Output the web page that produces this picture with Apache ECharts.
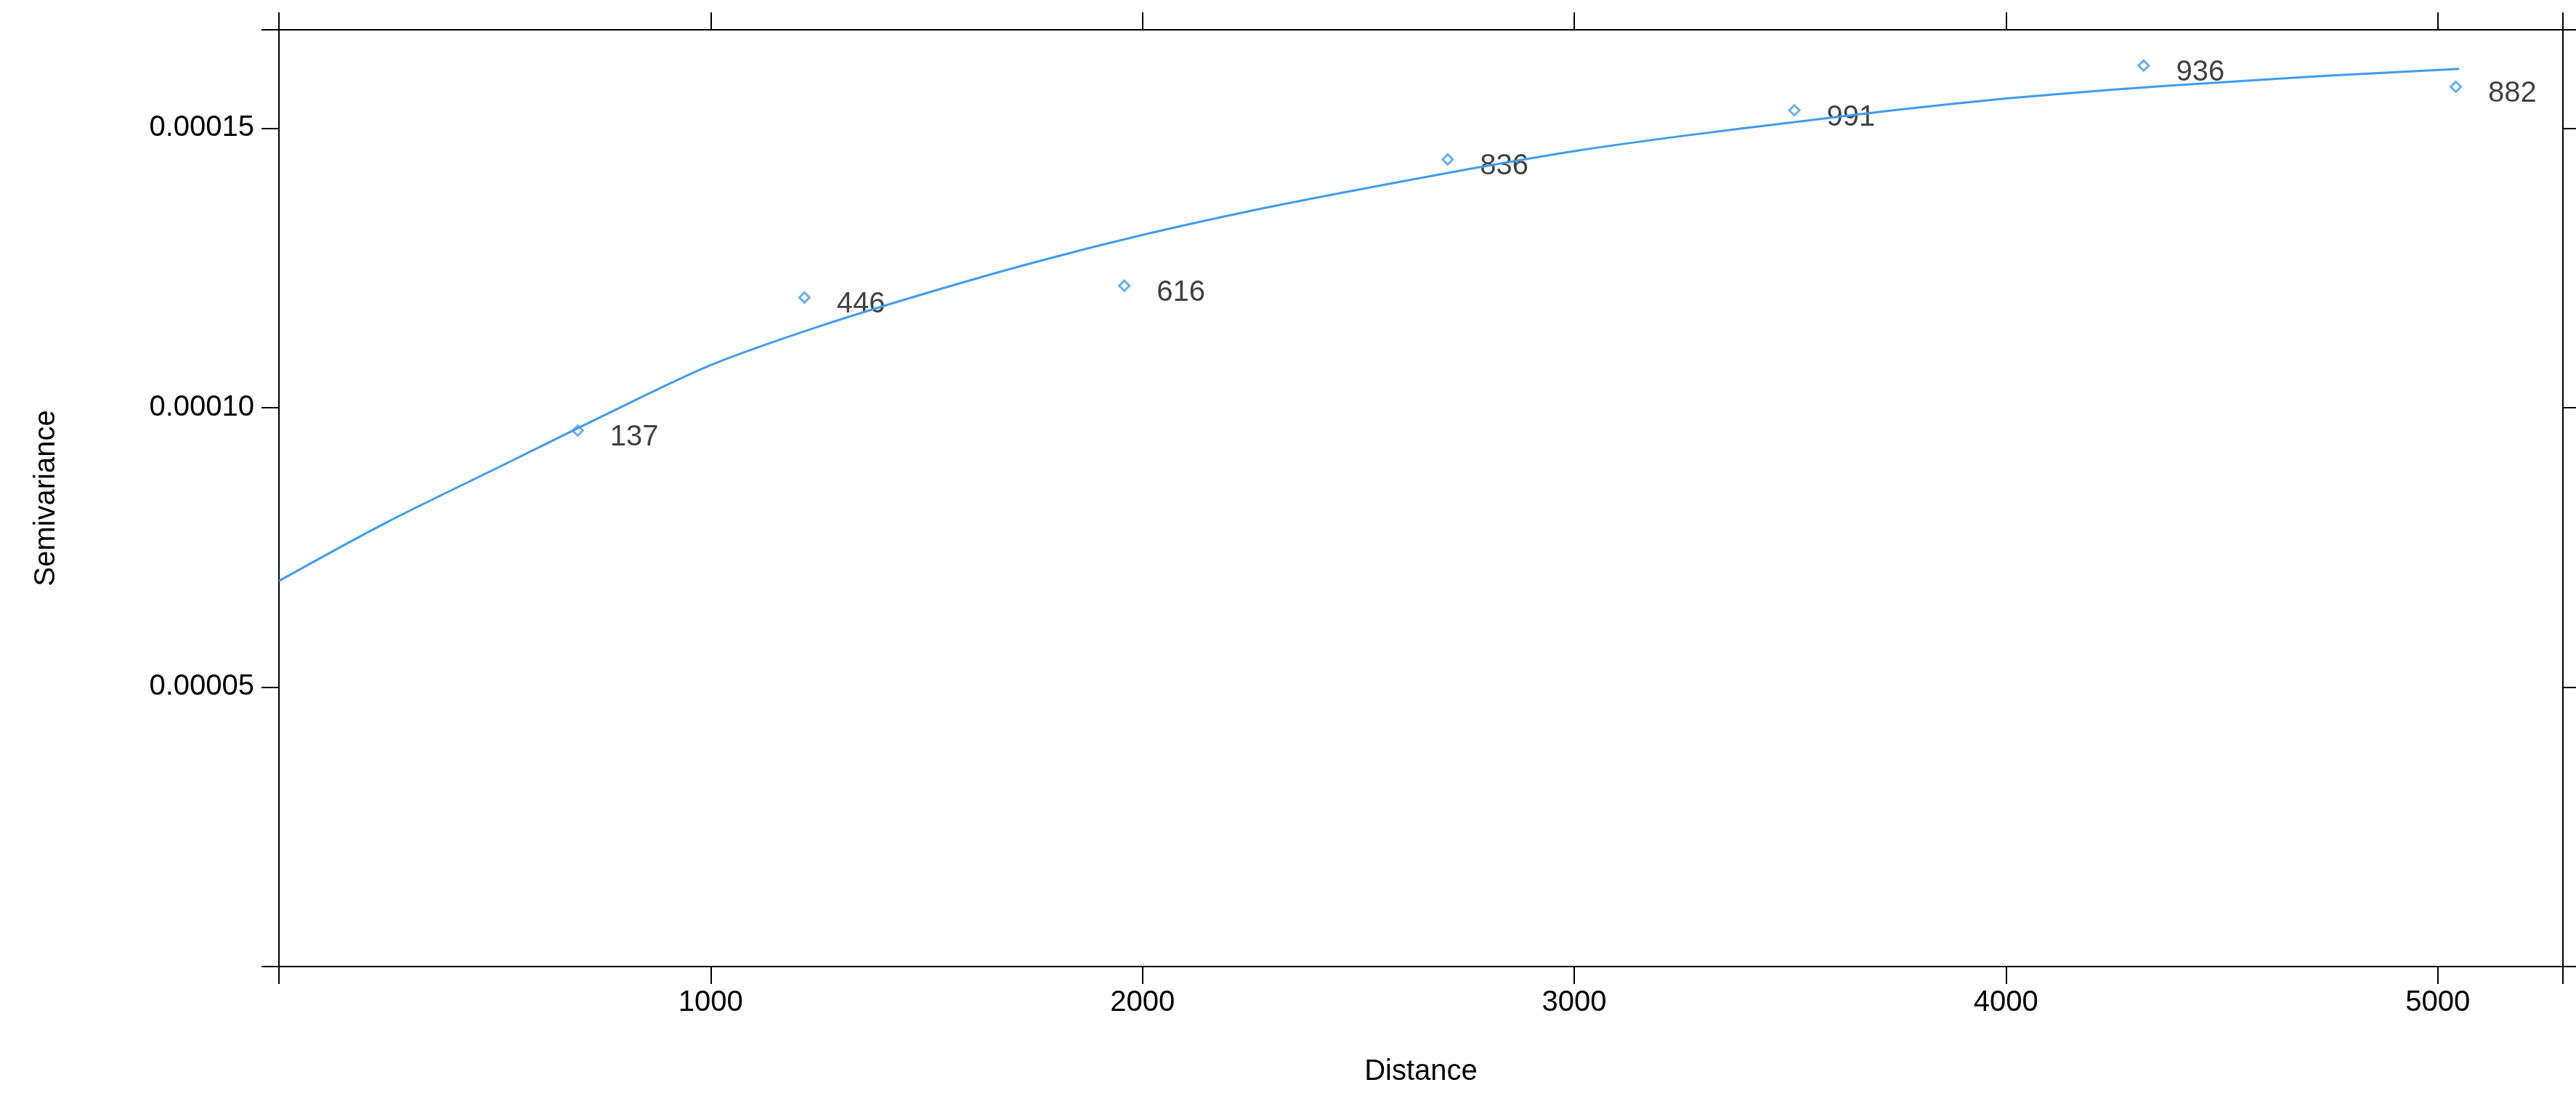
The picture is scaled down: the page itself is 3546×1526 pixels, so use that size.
<!DOCTYPE html>
<html><head><meta charset="utf-8">
<script src="https://cdn.jsdelivr.net/npm/echarts@6/dist/echarts.min.js"></script>
<style>html,body{margin:0;padding:0;background:#fff}#c{width:3546px;height:1526px}</style>
</head><body><div id="c"></div>
<script>
const distances = [692, 1217, 1958, 2707, 3510, 4319, 5042];
const gammas = [0.0000959, 0.0001197, 0.0001218, 0.0001444, 0.0001532, 0.0001612, 0.0001574];
const pairCounts = [137, 446, 616, 836, 991, 936, 882];
const modelDist = [0, 250, 500, 750, 1000, 1250, 1500, 1750, 2000, 2250, 2500, 2750, 3000, 3250, 3500, 3750, 4000, 4250, 4500, 4750, 5050];
const modelGamma = [0.0000690, 0.0000795, 0.0000890, 0.0000985, 0.0001076, 0.0001145, 0.0001205, 0.0001260, 0.0001309, 0.0001352, 0.0001390, 0.0001426, 0.0001459, 0.0001486, 0.0001510, 0.0001533, 0.0001553, 0.0001569, 0.0001582, 0.0001594, 0.0001606];
const xTicks = [1000, 2000, 3000, 4000, 5000];
const yTicks = [0.00005, 0.00010, 0.00015];

const col = '#3f9cf0';
const font = 'Liberation Sans';
const axBase = {
  axisLine: {show: true, onZero: false, lineStyle: {color: '#000', width: 2}},
  axisTick: {show: true, inside: false, length: 24, lineStyle: {color: '#000', width: 2}},
  splitLine: {show: false}
};
const chart = echarts.init(document.getElementById('c'));
chart.setOption({
  animation: false,
  grid: {left: 384, right: 18, top: 41, bottom: 196},
  xAxis: [
    Object.assign({type: 'value', position: 'bottom', min: 0, max: 5290, interval: 1000,
      name: 'Distance', nameLocation: 'middle', nameGap: 125,
      nameTextStyle: {fontFamily: font, fontSize: 40, color: '#000'},
      axisLabel: {fontFamily: font, fontSize: 40, color: '#000', margin: 30,
        formatter: v => xTicks.includes(v) ? String(v) : ''}}, axBase),
    Object.assign({type: 'value', position: 'top', min: 0, max: 5290, interval: 1000,
      axisLabel: {show: false}}, axBase)
  ],
  yAxis: [
    Object.assign({type: 'value', position: 'left', min: 0, max: 0.0001676, interval: 0.00005,
      name: 'Semivariance', nameLocation: 'middle', nameGap: 300,
      nameTextStyle: {fontFamily: font, fontSize: 40, color: '#000'},
      axisLabel: {fontFamily: font, fontSize: 40, color: '#000', margin: 34,
        formatter: v => yTicks.some(t => Math.abs(t - v) < 1e-9) ? v.toFixed(5) : ''}}, axBase),
    Object.assign({type: 'value', position: 'right', min: 0, max: 0.0001676, interval: 0.00005,
      axisLabel: {show: false}}, axBase)
  ],
  series: [
    {type: 'line', data: modelDist.map((d, i) => [d, modelGamma[i]]), smooth: 0.3,
      showSymbol: false, lineStyle: {color: col, width: 3}},
    {type: 'scatter', data: distances.map((d, i) => [d, gammas[i], pairCounts[i]]),
      symbol: 'diamond', symbolSize: 14,
      itemStyle: {color: '#fff', borderColor: col, borderWidth: 3},
      label: {show: true, position: 'right', distance: 36, offset: [0, 10],
        formatter: p => String(p.value[2]), fontFamily: font, fontSize: 40, color: '#111'}}
  ]
});
</script></body></html>
